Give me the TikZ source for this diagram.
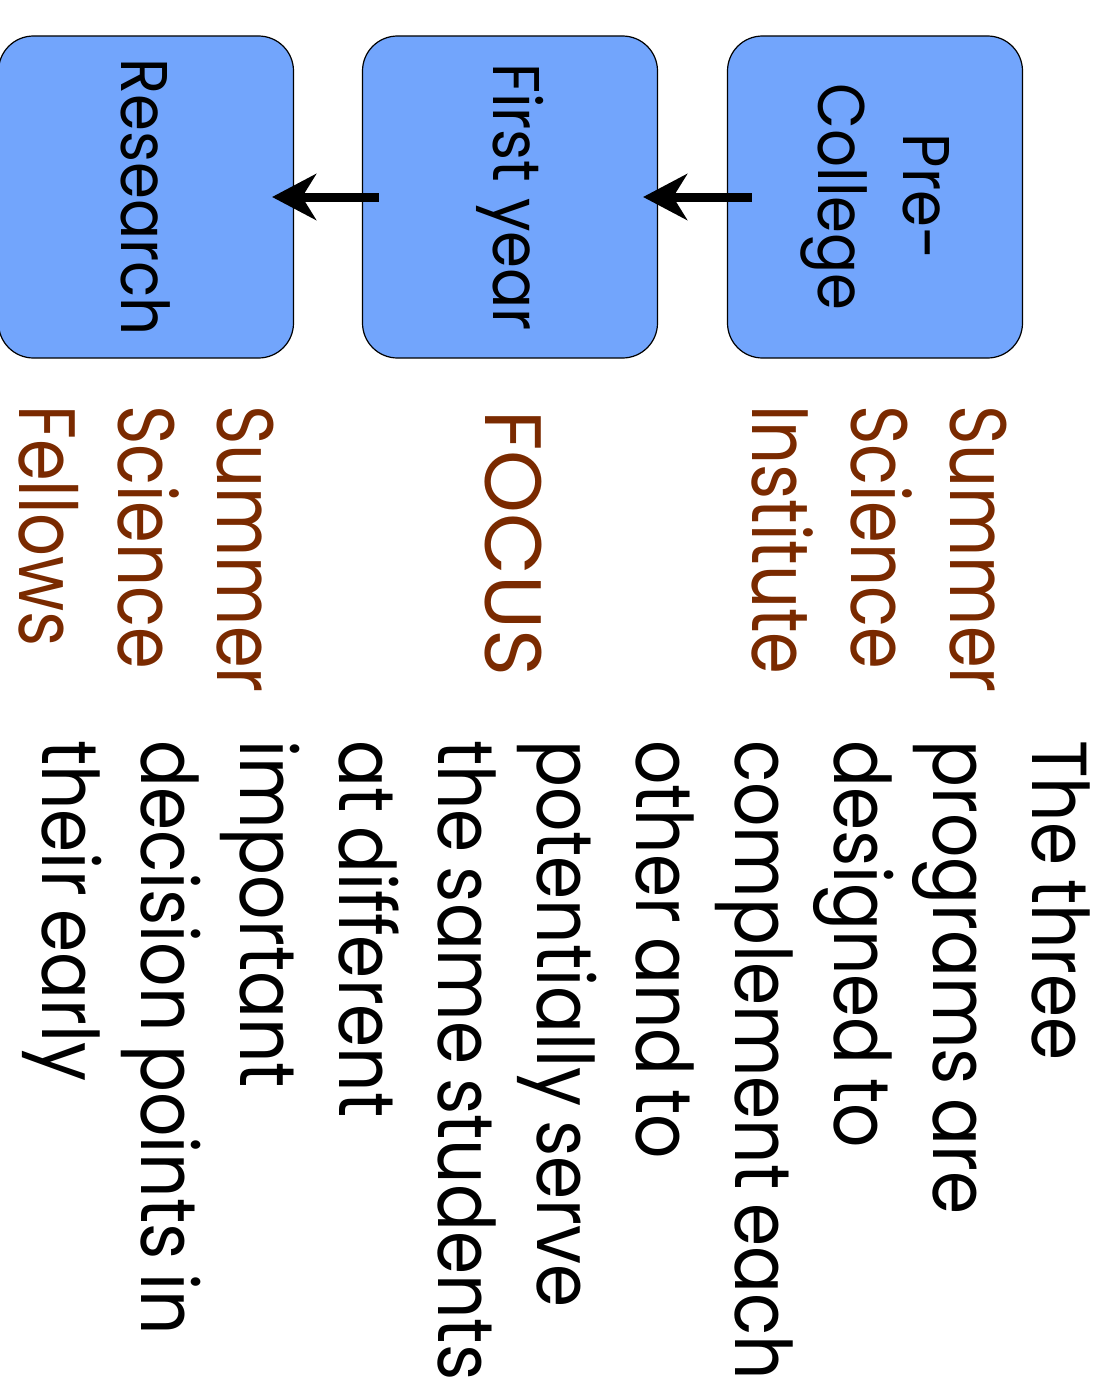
\documentclass[tikz,border=0pt]{standalone}
\usepackage{fontspec}
\setmainfont{Poppins}
\newfontfamily\bodyfont{Poppins}[FakeStretch=0.89, WordSpace=0.75]
\newfontfamily\brownfont{Poppins}[FakeStretch=0.84]
\newfontfamily\capsfont{Poppins}[FakeStretch=1.0]
\newfontfamily\boxfont{Poppins}[FakeStretch=0.9]
\usetikzlibrary{arrows.meta}
\definecolor{boxblue}{HTML}{72A5FC}
\definecolor{progbrown}{HTML}{7A2A00}
\tikzset{
  progbox/.style={draw=black, line width=1.2pt, fill=boxblue, rounded corners=35pt, minimum width=295pt, minimum height=322pt, inner sep=0pt},
  boxtext/.style={rotate=-90, align=center, font=\boxfont\fontsize{66}{85}\selectfont, inner sep=0pt},
  brownlabel/.style={rotate=-90, anchor=north west, align=left, inner sep=0pt, text=progbrown, font=\brownfont\fontsize{80}{99}\selectfont},
  bodytext/.style={rotate=-90, anchor=north west, align=left, inner sep=0pt, font=\bodyfont\fontsize{78}{99}\selectfont},
  flow/.style={line width=9pt, -{Stealth[length=44pt, width=46pt, inset=14pt]}}
}
\begin{document}
\begin{tikzpicture}[x=1pt, y=-1pt]
\useasboundingbox (0,0) rectangle (1115,1386);
\node[progbox] (research) at (146,197) {};
\node[progbox] (firstyear) at (510,197) {};
\node[progbox] (precollege) at (875,197) {};
\node[boxtext] (researchtxt) at (research.center) {Research};
\node[boxtext] (firstyeartxt) at (firstyear.center) {First year};
\node[boxtext] (precollegetxt) at (precollege.center) {Pre-\\College};
\draw[flow] ([xshift=25pt]precollege.west) -- ([xshift=-15pt]firstyear.east);
\draw[flow] ([xshift=17pt]firstyear.west) -- ([xshift=-22pt]research.east);
\node[brownlabel] (ssi) at (1007,405) {Summer\\Science\\Institute};
\node[brownlabel, font=\capsfont\fontsize{80}{99}\selectfont] (focus) at (542,410) {FOCUS};
\node[brownlabel] (ssf) at (274,405) {Summer\\Science\\Fellows};
\node[bodytext] (body) at (1090,740) {The three\\programs are\\designed to\\complement each\\other and to\\potentially serve\\the same students\\at different\\important\\decision points in\\their early};
\end{tikzpicture}
\end{document}
